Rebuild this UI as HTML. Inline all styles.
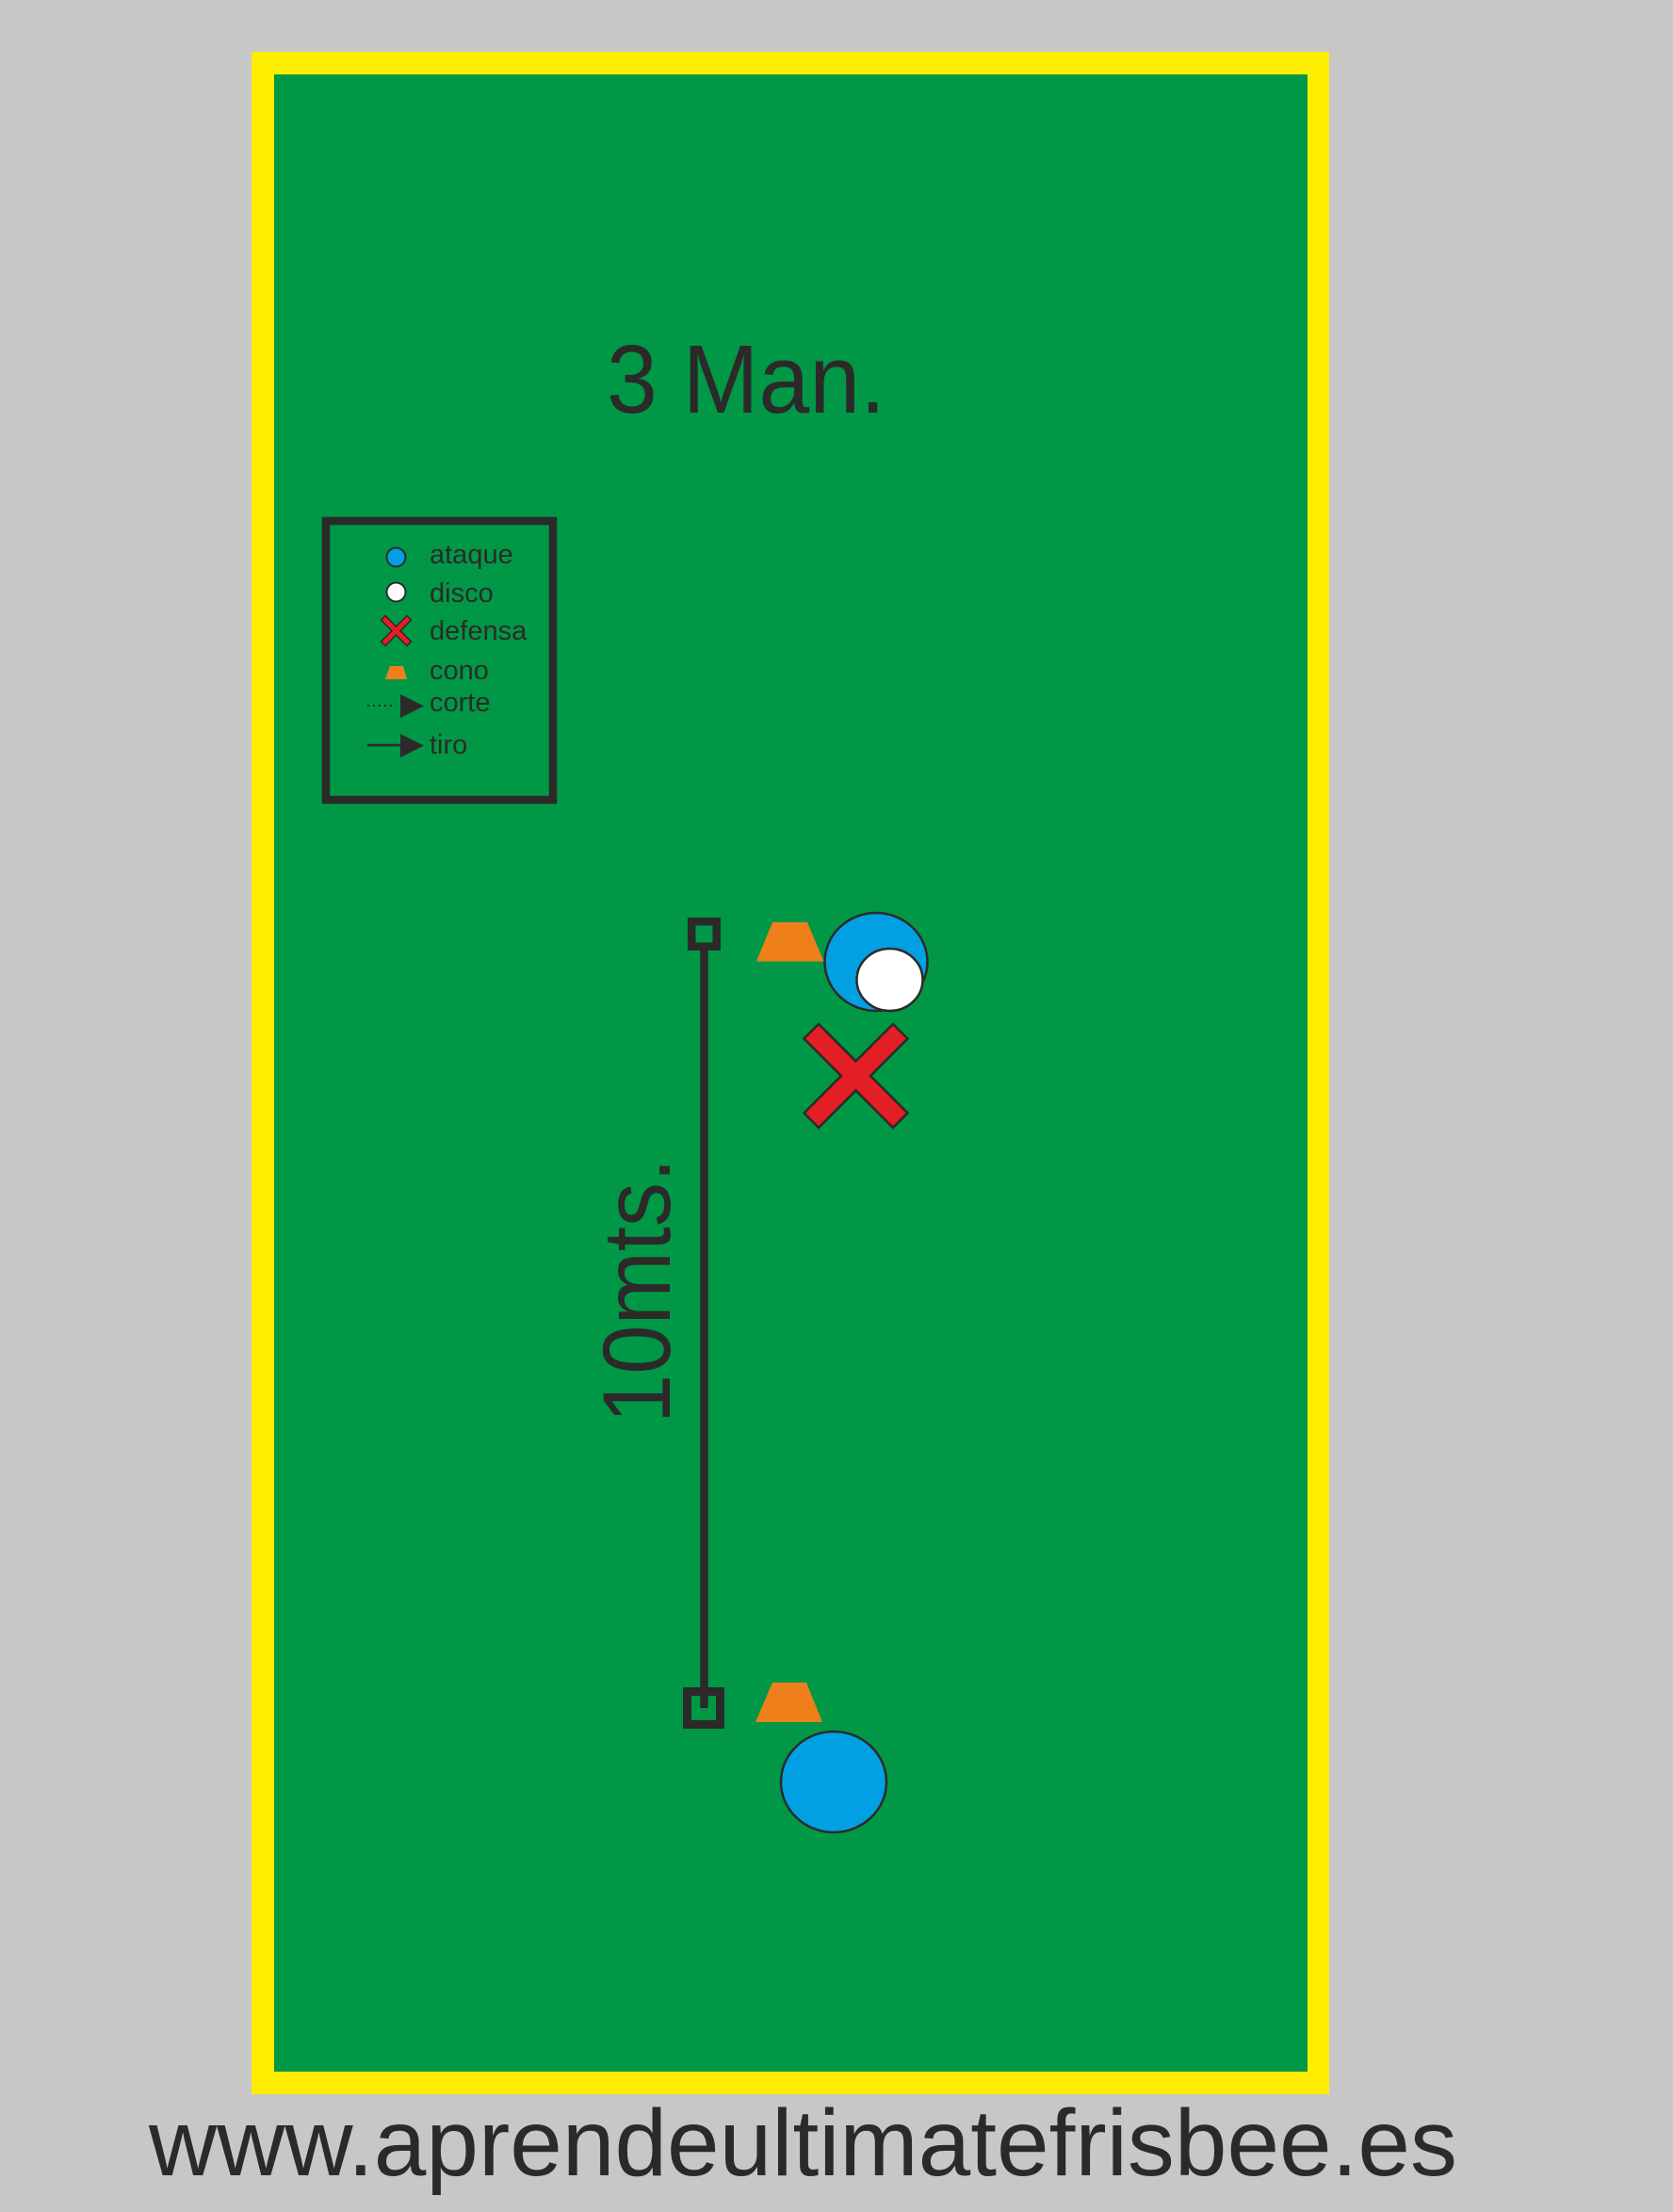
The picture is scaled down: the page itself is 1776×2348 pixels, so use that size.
<!DOCTYPE html>
<html><head><meta charset="utf-8"><style>html,body{margin:0;padding:0;background:#c6c7c6}svg{display:block}</style></head>
<body>
<svg width="1776" height="2348" viewBox="0 0 1776 2348" xmlns="http://www.w3.org/2000/svg" font-family="Liberation Sans, sans-serif">
<rect width="1776" height="2348" fill="#c6c7c6"/>
<rect x="267" y="55" width="1144" height="2168" fill="#ffed00"/>
<rect x="291" y="79" width="1097" height="2120" fill="#009846"/>
<text x="644" y="438" font-size="103" fill="#2b2a29" textLength="296" lengthAdjust="spacingAndGlyphs">3 Man.</text>
<!-- legend -->
<rect x="346" y="553" width="241" height="296" fill="none" stroke="#2b2a29" stroke-width="8.5"/>
<circle cx="420.5" cy="591.5" r="10" fill="#00a0e3" stroke="#2b2a29" stroke-width="2"/>
<circle cx="420.5" cy="628.5" r="10" fill="#fff" stroke="#2b2a29" stroke-width="2"/>
<polygon transform="translate(420.5 669.6) rotate(45)" points="-3.2,-19.4 3.2,-19.4 3.2,-3.2 19.4,-3.2 19.4,3.2 3.2,3.2 3.2,19.4 -3.2,19.4 -3.2,3.2 -19.4,3.2 -19.4,-3.2 -3.2,-3.2" fill="#e31e24" stroke="#2b2a29" stroke-width="1.5"/>
<polygon points="414,707 428,707 432,721 409,721" fill="#ef7f1a"/>
<line x1="390" y1="749" x2="420" y2="749" stroke="#2b2a29" stroke-width="2" stroke-dasharray="2 4"/>
<polygon points="425,737 450,749.5 425,762" fill="#2b2a29"/>
<line x1="390" y1="791" x2="428" y2="791" stroke="#2b2a29" stroke-width="2.5"/>
<polygon points="425,779 450,791.5 425,804" fill="#2b2a29"/>
<g font-size="29" fill="#2b2a29">
<text x="456" y="598">ataque</text>
<text x="456" y="639">disco</text>
<text x="456" y="679">defensa</text>
<text x="456" y="721">cono</text>
<text x="456" y="755">corte</text>
<text x="456" y="800">tiro</text>
</g>
<!-- measure line -->
<line x1="747.5" y1="1005" x2="747.5" y2="1813" stroke="#2b2a29" stroke-width="8.5"/>
<rect x="734.2" y="978.2" width="26.5" height="26.5" fill="none" stroke="#2b2a29" stroke-width="8.5"/>
<rect x="729.5" y="1795.5" width="35" height="35" fill="none" stroke="#2b2a29" stroke-width="9"/>
<text transform="translate(711 1511) rotate(-90)" font-size="102" fill="#2b2a29" textLength="282" lengthAdjust="spacingAndGlyphs">10mts.</text>
<!-- top group -->
<polygon points="820,979 857,979 874.5,1020.5 803,1020.5" fill="#ef7f1a"/>
<ellipse cx="930" cy="1021" rx="54.5" ry="52" fill="#00a0e3" stroke="#2b2a29" stroke-width="2.5"/>
<ellipse cx="944.5" cy="1040" rx="35" ry="33" fill="#fff" stroke="#2b2a29" stroke-width="2.5"/>
<polygon transform="translate(908.5 1142) rotate(45)" points="-11,-66.8 11,-66.8 11,-11 66.8,-11 66.8,11 11,11 11,66.8 -11,66.8 -11,11 -66.8,11 -66.8,-11 -11,-11" fill="#e31e24" stroke="#2b2a29" stroke-width="2.5"/>
<!-- bottom group -->
<polygon points="820,1786 856,1786 873,1828 802,1828" fill="#ef7f1a"/>
<ellipse cx="885" cy="1891.5" rx="56" ry="53.5" fill="#00a0e3" stroke="#2b2a29" stroke-width="2.5"/>
<text x="158" y="2309" font-size="100" fill="#2b2a29" textLength="1389" lengthAdjust="spacingAndGlyphs">www.aprendeultimatefrisbee.es</text>
</svg>
</body></html>
